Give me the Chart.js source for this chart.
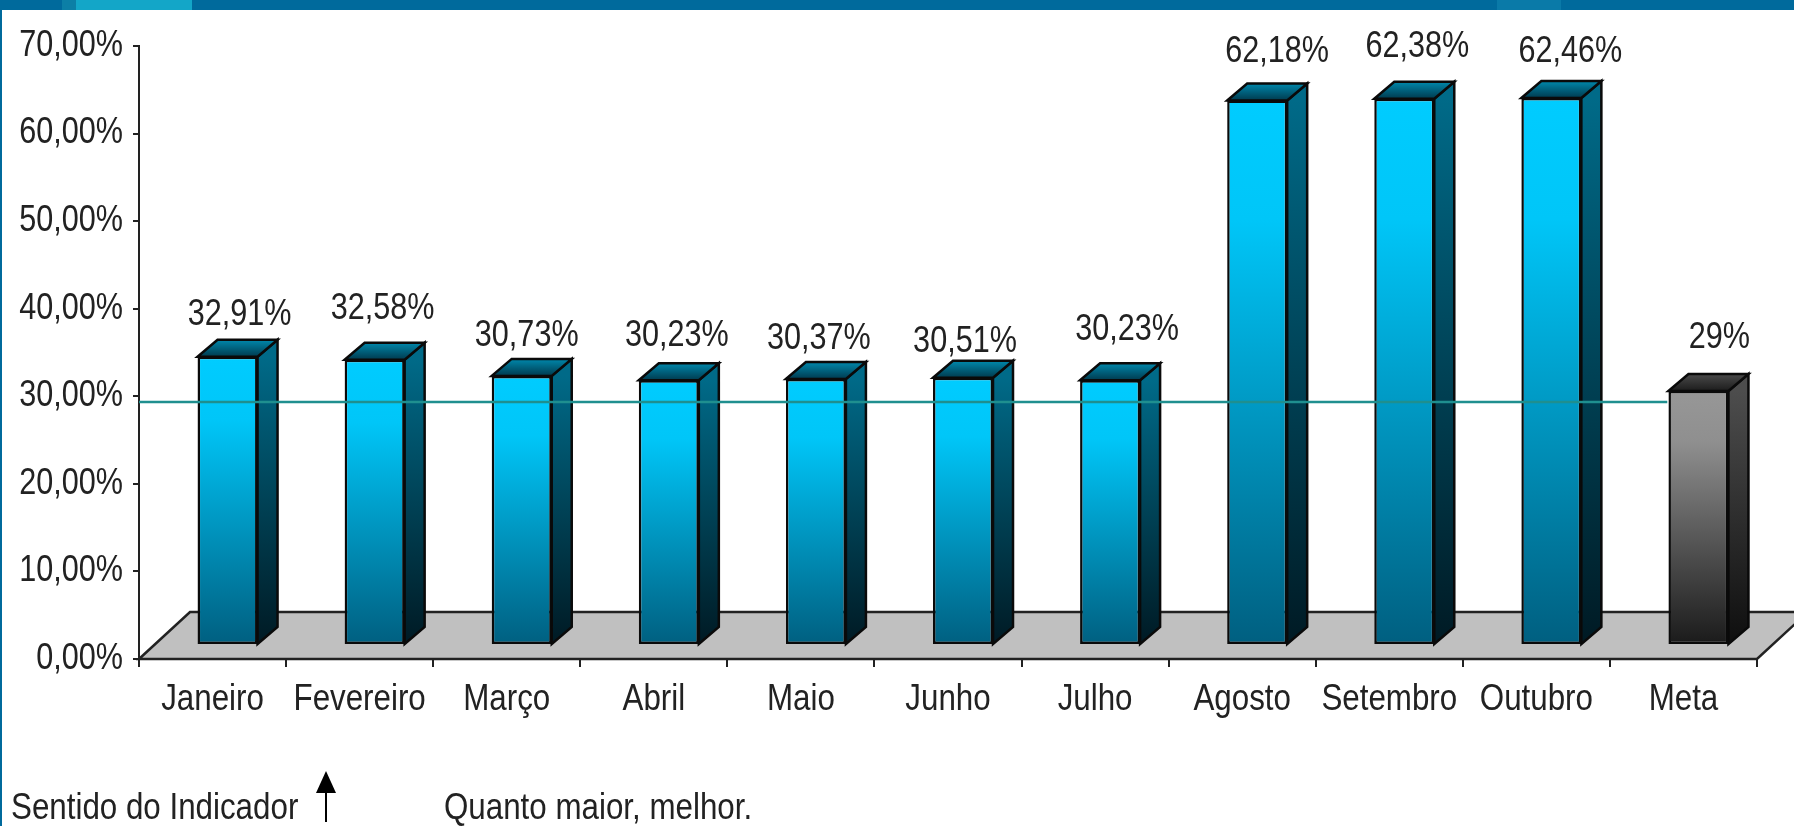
<!DOCTYPE html>
<html>
<head>
<meta charset="utf-8">
<script src="https://cdn.jsdelivr.net/npm/chart.js@4"></script>
<style>
html,body{margin:0;padding:0;background:#fff;overflow:hidden}
#wrap{position:relative;width:1794px;height:826px}
canvas{position:absolute;left:0;top:0;filter:blur(0.5px)}
.b{position:absolute}
</style>
</head>
<body>
<div id="wrap">
<canvas id="c" width="1794" height="826"></canvas>
<div class="b" style="left:0;top:0;width:1794px;height:10px;background:#006a9c"></div>
<div class="b" style="left:62px;top:0;width:14px;height:10px;background:#0c7fa6"></div>
<div class="b" style="left:76px;top:0;width:116px;height:10px;background:#13a6c8"></div>
<div class="b" style="left:1497px;top:0;width:64px;height:10px;background:#0a7aa8"></div>
<div class="b" style="left:0;top:0;width:2px;height:826px;background:#006a9c"></div>
</div>
<script>
const categories = ['Janeiro','Fevereiro','Março','Abril','Maio','Junho','Julho','Agosto','Setembro','Outubro','Meta'];
const values = [32.91,32.58,30.73,30.23,30.37,30.51,30.23,62.18,62.38,62.46,29];
const valueLabels = ['32,91%','32,58%','30,73%','30,23%','30,37%','30,51%','30,23%','62,18%','62,38%','62,46%','29%'];
const yTicks = [0,10,20,30,40,50,60,70];
const goalValue = [29.35,29.35];
const goalSpan = [0,10.39];

const FONT = '"Liberation Sans",Arial,sans-serif';
const SQUEEZE_NUM = 0.85;
const SQUEEZE_WORD = 0.87;
const labelNudgeX = [12,8,5,8,3,2,17,20,13,19,21];
const labelNudgeY = [-42,-51,-40,-44,-40,-36,-50,-48,-52,-46,-53];
const OFF = {x:15,y:-14};
const DEPTH = {x:20,y:17};
const FLOOR = {x:51,y:47};
const INK = '#0a0a0a';
const META = categories.length-1;

function pal(i){
  return i===META
    ? {front:[['0','#979797'],['.2','#8f8f8f'],['1','#1a1a1a']], side:['#4d4d4d','#0e0e0e'], top:['#4a4a4a','#1c1c1c']}
    : {front:[['0','#00ccff'],['.22','#00c6f8'],['1','#005f80']], side:['#006a88','#001a24'], top:['#0088ac','#003a4e']};
}
function vGrad(ctx,y0,y1,stops){
  const g=ctx.createLinearGradient(0,y0,0,y1);
  stops.forEach(s=>g.addColorStop(+s[0],s[1]));
  return g;
}
function poly(ctx,pts,fill){
  ctx.beginPath();
  pts.forEach((p,i)=>i?ctx.lineTo(p[0],p[1]):ctx.moveTo(p[0],p[1]));
  ctx.closePath();
  ctx.fillStyle=fill;ctx.fill();
  ctx.lineWidth=2.5;ctx.strokeStyle=INK;ctx.lineJoin='miter';ctx.stroke();
}

const floorPlugin={
  id:'floor',
  beforeDraw(chart){
    const {ctx,chartArea:a}=chart;
    ctx.save();
    ctx.beginPath();
    ctx.moveTo(a.left,a.bottom);
    ctx.lineTo(a.left+FLOOR.x,a.bottom-FLOOR.y);
    ctx.lineTo(a.right+FLOOR.x,a.bottom-FLOOR.y);
    ctx.lineTo(a.right,a.bottom);
    ctx.closePath();
    ctx.fillStyle='#c0c0c0';ctx.fill();
    ctx.lineWidth=2.5;ctx.strokeStyle='#222';ctx.stroke();
    ctx.restore();
  }
};
const boxPlugin={
  id:'box3d',
  beforeDatasetDraw(chart,args){
    if(args.index!==0) return;
    const ctx=chart.ctx;
    ctx.save();
    ctx.translate(OFF.x,OFF.y);
    chart.getDatasetMeta(0).data.forEach((el,i)=>{
      const p=el.getProps(['x','y','base','width'],true);
      const l=p.x-p.width/2,r=p.x+p.width/2,c=pal(i);
      poly(ctx,[[r,p.y],[r+DEPTH.x,p.y-DEPTH.y],[r+DEPTH.x,p.base-DEPTH.y],[r,p.base]],
        vGrad(ctx,p.y,p.base,[['0',c.side[0]],['1',c.side[1]]]));
      poly(ctx,[[l,p.y],[l+DEPTH.x,p.y-DEPTH.y],[r+DEPTH.x,p.y-DEPTH.y],[r,p.y]],
        vGrad(ctx,p.y-DEPTH.y,p.y,[['0',c.top[0]],['1',c.top[1]]]));
    });
  },
  afterDatasetDraw(chart,args){
    if(args.index===0) chart.ctx.restore();
  },
  afterDatasetsDraw(chart){
    const ctx=chart.ctx;
    ctx.save();
    ctx.font='36px '+FONT;
    ctx.fillStyle='#222';
    ctx.textAlign='center';ctx.textBaseline='middle';
    chart.getDatasetMeta(0).data.forEach((el,i)=>{
      ctx.fillText(valueLabels[i],el.x+OFF.x+labelNudgeX[i],el.y+OFF.y+labelNudgeY[i]);
    });
    ctx.restore();
  },
  afterDraw(chart){
    const ctx=chart.ctx;
    ctx.save();
    ctx.font='36px '+FONT;
    ctx.fillStyle='#222';
    ctx.textAlign='left';ctx.textBaseline='alphabetic';
    ctx.fillText('Sentido do Indicador',11,819);
    ctx.fillText('Quanto maior, melhor.',444,819);
    ctx.strokeStyle='#000';ctx.fillStyle='#000';ctx.lineWidth=2;
    ctx.beginPath();ctx.moveTo(326,790);ctx.lineTo(326,822);ctx.stroke();
    ctx.beginPath();ctx.moveTo(326,771);ctx.lineTo(336,793);ctx.lineTo(316,793);ctx.closePath();ctx.fill();
    ctx.restore();
  }
};

const canvas=document.getElementById('c');
const c2d=canvas.getContext('2d');
const rawFillText=c2d.fillText.bind(c2d);
c2d.fillText=function(t,x,y){
  c2d.save();
  c2d.translate(x,y);
  c2d.scale(/\d/.test(t)?SQUEEZE_NUM:SQUEEZE_WORD,1);
  rawFillText(t,0,0);
  c2d.restore();
};

new Chart(canvas,{
  data:{
    labels:categories,
    datasets:[
      {
        type:'bar',
        data:values,
        order:2,
        clip:false,
        grouped:false,
        barPercentage:0.408,
        categoryPercentage:1,
        borderWidth:2.5,
        borderColor:INK,
        borderSkipped:false,
        backgroundColor(c){
          const s=c.chart.scales.y;
          if(!s||c.dataIndex===undefined) return '#00ccff';
          const y0=s.getPixelForValue(values[c.dataIndex]),y1=s.getPixelForValue(0);
          if(!isFinite(y0)||!isFinite(y1)) return '#00ccff';
          return vGrad(c.chart.ctx,y0,y1,pal(c.dataIndex).front);
        }
      },
      {
        type:'line',
        data:goalSpan.map((x,i)=>({x,y:goalValue[i]})),
        xAxisID:'xGoal',
        order:1,
        borderColor:'#1f8f8f',
        borderWidth:2.5,
        pointRadius:0,
        tension:0,
        clip:false
      }
    ]
  },
  plugins:[floorPlugin,boxPlugin],
  options:{
    responsive:false,
    animation:false,
    events:[],
    layout:{padding:{top:46,right:37,left:0,bottom:0}},
    plugins:{legend:{display:false},title:{display:false},tooltip:{enabled:false}},
    scales:{
      x:{
        type:'category',
        offset:true,
        afterFit(s){s.height=167;},
        grid:{display:true,drawOnChartArea:false,drawTicks:true,tickLength:8,color:'#222',offset:true,lineWidth:2},
        border:{display:true,color:'#222',width:2},
        ticks:{color:'#222',font:{family:FONT,size:36},padding:11,maxRotation:0,autoSkip:false}
      },
      xGoal:{type:'linear',min:0,max:categories.length,display:false},
      y:{
        type:'linear',
        min:0,max:70,
        afterFit(s){s.width=139;},
        afterBuildTicks(s){s.ticks=yTicks.map(value=>({value}));},
        grid:{display:true,drawOnChartArea:false,drawTicks:true,tickLength:6,color:'#222',lineWidth:2},
        border:{display:true,color:'#222',width:2},
        ticks:{color:'#222',font:{family:FONT,size:36},padding:10,callback:v=>v.toFixed(2).replace('.',',')+'%'}
      }
    }
  }
});
</script>
</body>
</html>
